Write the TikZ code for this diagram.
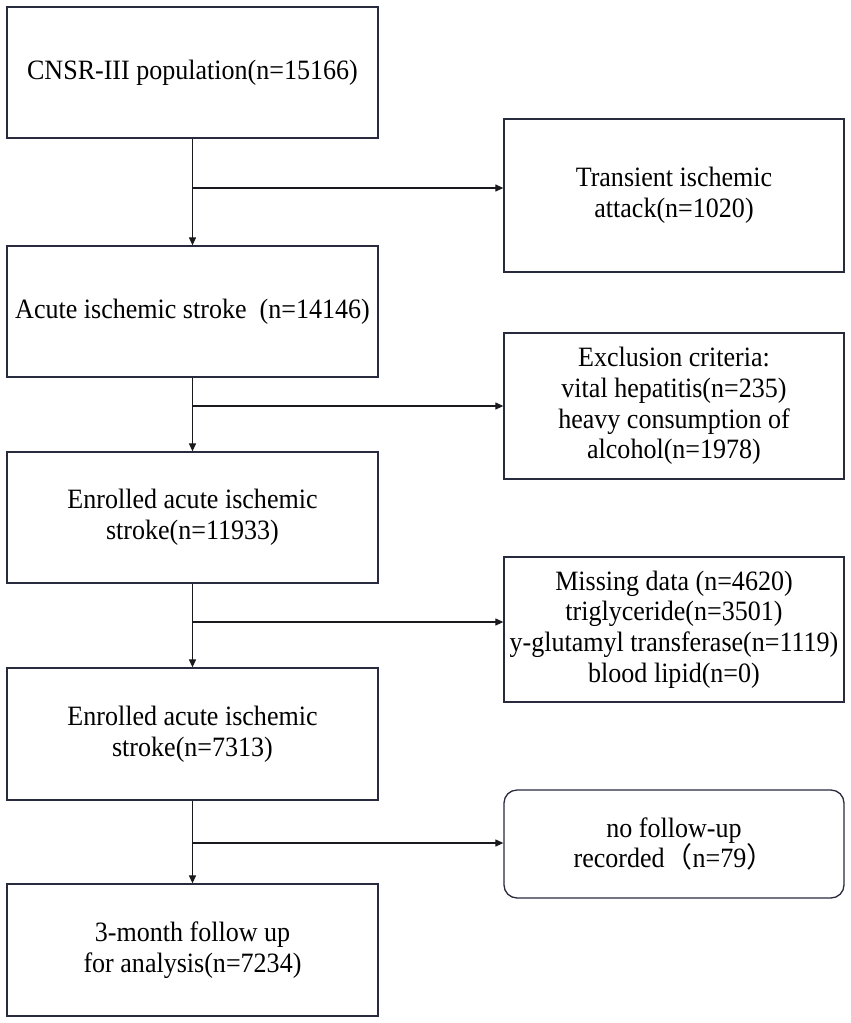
\documentclass[tikz,border=0pt]{standalone}
\usepackage{fontspec}
\setmainfont{Liberation Serif}[FakeStretch=0.93]
\newfontfamily\cjk{Noto Sans CJK SC}
\usetikzlibrary{arrows.meta}
\definecolor{boxline}{RGB}{40,42,62}
\definecolor{arrline}{RGB}{25,25,30}
\begin{document}
\begin{tikzpicture}[x=1pt,y=-1pt,
  box/.style={draw=boxline,line width=1.3pt,align=center,inner sep=2pt,
    font=\fontsize{28}{30.6}\selectfont},
  leftbox/.style={box,minimum width=371pt},
  rightbox/.style={box,minimum width=340pt},
  arr/.style={draw=arrline,line width=1.2pt,-{Triangle[length=8pt,width=7pt]}},
  ln/.style={draw=arrline,line width=1.2pt}]
\useasboundingbox (0,0) rectangle (851,1023);
\node[leftbox,minimum height=131pt] (b1) at (192.5,72.5) {CNSR-III population(n=15166)};
\node[leftbox,minimum height=131pt] (b2) at (192.5,311.5) {Acute ischemic stroke\ \ (n=14146)};
\node[leftbox,minimum height=131pt] (b3) at (192.5,517.5) {Enrolled acute ischemic\\stroke(n=11933)};
\node[leftbox,minimum height=132pt] (b4) at (192.5,734) {Enrolled acute ischemic\\stroke(n=7313)};
\node[leftbox,minimum height=132pt] (b5) at (192.5,950) {3-month follow up\\for analysis(n=7234)};
\node[rightbox,minimum height=153pt] (r1) at (674,195.5) {Transient ischemic\\attack(n=1020)};
\node[rightbox,minimum height=146pt] (r2) at (674,406) {Exclusion criteria:\\vital hepatitis(n=235)\\heavy consumption of\\alcohol(n=1978)};
\node[rightbox,minimum height=145pt] (r3) at (674,629.5) {Missing data (n=4620)\\triglyceride(n=3501)\\y-glutamyl transferase(n=1119)\\blood lipid(n=0)};
\node[rightbox,minimum height=108pt,rounded corners=13pt] (r4) at (674,844) {no follow-up\\recorded{\cjk （}n=79{\cjk ）}};
\coordinate (j1) at (192.5,188);
\coordinate (j2) at (192.5,406);
\coordinate (j3) at (192.5,622);
\coordinate (j4) at (192.5,843);
\draw[arr] (b1.south) -- (b2.north);
\draw[arr] (b2.south) -- (b3.north);
\draw[arr] (b3.south) -- (b4.north);
\draw[arr] (b4.south) -- (b5.north);
\draw[arr] (j1) -- (j1 -| r1.west);
\draw[arr] (j2) -- (j2 -| r2.west);
\draw[arr] (j3) -- (j3 -| r3.west);
\draw[arr] (j4) -- (j4 -| r4.west);
\end{tikzpicture}
\end{document}
